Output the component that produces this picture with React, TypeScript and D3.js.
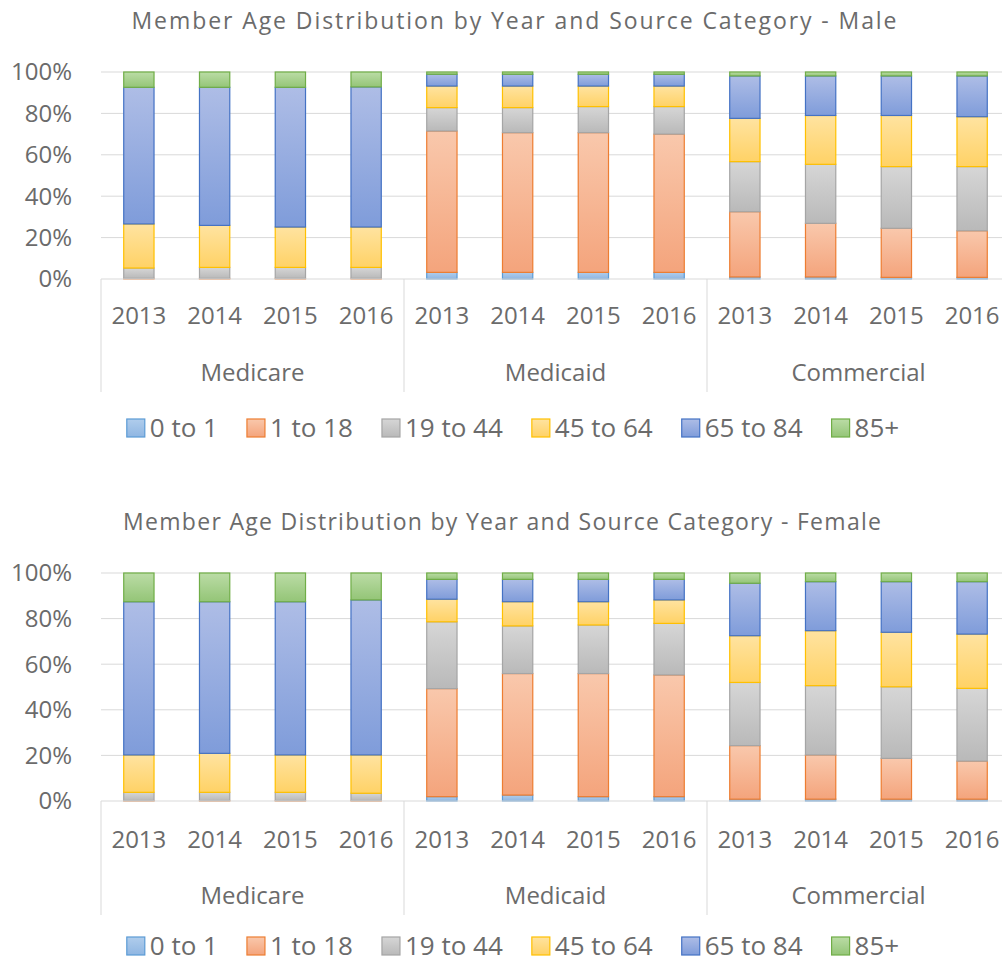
import * as d3 from "d3";

const sources = ["Medicare", "Medicaid", "Commercial"];
const years = ["2013", "2014", "2015", "2016"];
const ageGroups = ["0 to 1", "1 to 18", "19 to 44", "45 to 64", "65 to 84", "85+"];

// shares in %, order: Medicare 2013-2016, Medicaid 2013-2016, Commercial 2013-2016
const male0to1 = [0, 0, 0, 0, 3.2, 3.2, 3.2, 3.2, 1.0, 1.0, 0.8, 0.8];
const male1to18 = [0.3, 0.3, 0.3, 0.3, 68.3, 67.5, 67.5, 66.8, 31.5, 25.9, 23.7, 22.5];
const male19to44 = [5.0, 5.3, 5.3, 5.3, 11.3, 12.1, 12.6, 13.3, 24.2, 28.5, 29.8, 31.0];
const male45to64 = [21.3, 20.3, 19.5, 19.5, 10.4, 10.4, 9.9, 9.9, 20.9, 23.6, 24.7, 24.1];
const male65to84 = [66.0, 66.7, 67.5, 67.7, 5.7, 5.7, 5.7, 5.7, 20.5, 19.1, 19.1, 19.7];
const male85plus = [7.4, 7.4, 7.4, 7.2, 1.1, 1.1, 1.1, 1.1, 1.9, 1.9, 1.9, 1.9];

const female0to1 = [0, 0, 0, 0, 1.9, 2.6, 1.9, 1.9, 0.8, 0.8, 0.8, 0.8];
const female1to18 = [0.2, 0.2, 0.2, 0.2, 47.4, 53.3, 54.0, 53.4, 23.5, 19.4, 17.9, 16.7];
const female19to44 = [3.6, 3.6, 3.6, 3.2, 29.3, 20.9, 21.3, 22.6, 27.7, 30.4, 31.4, 31.9];
const female45to64 = [16.4, 17.1, 16.4, 16.8, 9.9, 10.6, 10.2, 10.3, 20.5, 24.1, 23.9, 23.8];
const female65to84 = [67.2, 66.5, 67.2, 68.0, 8.7, 9.8, 9.8, 9.0, 23.0, 21.5, 22.2, 23.0];
const female85plus = [12.6, 12.6, 12.6, 11.8, 2.8, 2.8, 2.8, 2.8, 4.5, 3.8, 3.8, 3.8];

const yTicks = [0, 20, 40, 60, 80, 100];

const fills = [
  ["#b0cdec", "#8fb6e2"],
  ["#f9c8ac", "#f4a47c"],
  ["#d6d6d6", "#b9b9b9"],
  ["#ffe3a0", "#ffd266"],
  ["#aebde6", "#7f9cda"],
  ["#bbdca6", "#94c577"],
];
const strokes = ["#5b9bd5", "#ed7d31", "#a5a5a5", "#ffc000", "#4472c4", "#70ad47"];

const FONT = "'Open Sans', 'Noto Sans', sans-serif";
const TEXT = "#6b6b6b";
const GRID = "#d9d9d9";

const left = 101;
const right = 1010;

function measure(text: string, size: number) {
  const ctx = document.createElement("canvas").getContext("2d")!;
  ctx.font = `${size}px ${FONT}`;
  return ctx.measureText(text).width;
}

type ChartProps = {
  id: string;
  title: string;
  titleX: number;
  titleWidth: number;
  series: number[][];
  titleY: number;
  top: number;
  bottom: number;
  yearY: number;
  groupY: number;
  dividerEnd: number;
  legendY: number;
};

function StackedChart({ id, title, titleX, titleWidth, series, titleY, top, bottom, yearY, groupY, dividerEnd, legendY }: ChartProps) {
  const keys = sources.flatMap((s) => years.map((y) => `${s}|${y}`));
  const rows = keys.map((k, i) => {
    const r: Record<string, any> = { key: k };
    ageGroups.forEach((g, j) => (r[g] = series[j][i]));
    return r;
  });
  const stacked = d3.stack<Record<string, any>>().keys(ageGroups)(rows);

  const x = d3.scaleBand<string>().domain(keys).range([left, right]).paddingInner(0.6).paddingOuter(0.3);
  const y = d3.scaleLinear().domain([0, 100]).range([bottom, top]);
  const groupWidth = (right - left) / sources.length;

  // legend layout
  const legendSize = 26;
  const sw = 18;
  const widths = ageGroups.map((g) => sw + 5 + measure(g, legendSize));
  const gap = 29;
  const total = d3.sum(widths) + gap * (ageGroups.length - 1);
  let lx = 513 - total / 2;
  const legendX = widths.map((w) => {
    const p = lx;
    lx += w + gap;
    return p;
  });

  return (
    <g>
      <defs>
        {fills.map((f, i) => (
          <linearGradient key={i} id={`${id}-g${i}`} x1="0" y1="0" x2="0" y2="1">
            <stop offset="0" stopColor={f[0]} />
            <stop offset="1" stopColor={f[1]} />
          </linearGradient>
        ))}
      </defs>
      <text
        x={titleX}
        y={titleY}
        textAnchor="middle"
        fontSize={23}
        fill={TEXT}
        fontFamily={FONT}
        textLength={titleWidth}
        lengthAdjust="spacing"
      >
        {title}
      </text>
      {yTicks.map((t) => (
        <g key={t}>
          {t > 0 && <line x1={left} x2={right} y1={y(t)} y2={y(t)} stroke={GRID} strokeWidth={1} />}
          <text x={72} y={y(t)} dy="0.35em" textAnchor="end" fontSize={24} fill={TEXT} fontFamily={FONT}>
            {t}%
          </text>
        </g>
      ))}
      {stacked.map((s, i) => (
        <g key={s.key}>
          {s.map((d) =>
            d[1] - d[0] > 0 ? (
              <rect
                key={d.data.key}
                x={x(d.data.key)!}
                width={x.bandwidth()}
                y={y(d[1])}
                height={y(d[0]) - y(d[1])}
                fill={`url(#${id}-g${i})`}
                stroke={strokes[i]}
                strokeWidth={1.2}
              />
            ) : null
          )}
        </g>
      ))}
      <line x1={left} x2={right} y1={bottom} y2={bottom} stroke={GRID} strokeWidth={1} />
      {d3.range(sources.length + 1).map((i) => (
        <line
          key={i}
          x1={left + i * groupWidth}
          x2={left + i * groupWidth}
          y1={bottom}
          y2={dividerEnd}
          stroke={GRID}
          strokeWidth={1}
        />
      ))}
      {keys.map((k) => (
        <text
          key={k}
          x={x(k)! + x.bandwidth() / 2}
          y={yearY}
          dy="0.35em"
          textAnchor="middle"
          fontSize={24}
          fill={TEXT}
          fontFamily={FONT}
        >
          {k.split("|")[1]}
        </text>
      ))}
      {sources.map((s, i) => (
        <text
          key={s}
          x={left + (i + 0.5) * groupWidth}
          y={groupY}
          dy="0.35em"
          textAnchor="middle"
          fontSize={24}
          fill={TEXT}
          fontFamily={FONT}
        >
          {s}
        </text>
      ))}
      {ageGroups.map((g, i) => (
        <g key={g} transform={`translate(${legendX[i]},${legendY})`}>
          <rect x={0} y={-sw / 2} width={sw} height={sw} fill={`url(#${id}-g${i})`} stroke={strokes[i]} strokeWidth={1.2} />
          <text x={sw + 5} y={0} dy="0.35em" fontSize={legendSize} fill={TEXT} fontFamily={FONT}>
            {g}
          </text>
        </g>
      ))}
    </g>
  );
}

export default function App() {
  return (
    <svg width={1002} height={966} style={{ position: "absolute", left: 0, top: 0, background: "#fff" }}>
      <rect width={1002} height={966} fill="#fff" />
      <StackedChart
        id="male"
        title="Member Age Distribution by Year and Source Category - Male"
        titleX={514}
        titleWidth={765}
        series={[male0to1, male1to18, male19to44, male45to64, male65to84, male85plus]}
        titleY={29}
        top={72}
        bottom={279}
        yearY={316}
        groupY={373}
        dividerEnd={392}
        legendY={428}
      />
      <StackedChart
        id="female"
        title="Member Age Distribution by Year and Source Category - Female"
        titleX={502}
        titleWidth={758}
        series={[female0to1, female1to18, female19to44, female45to64, female65to84, female85plus]}
        titleY={530}
        top={573}
        bottom={801}
        yearY={840}
        groupY={896}
        dividerEnd={915}
        legendY={946}
      />
    </svg>
  );
}
